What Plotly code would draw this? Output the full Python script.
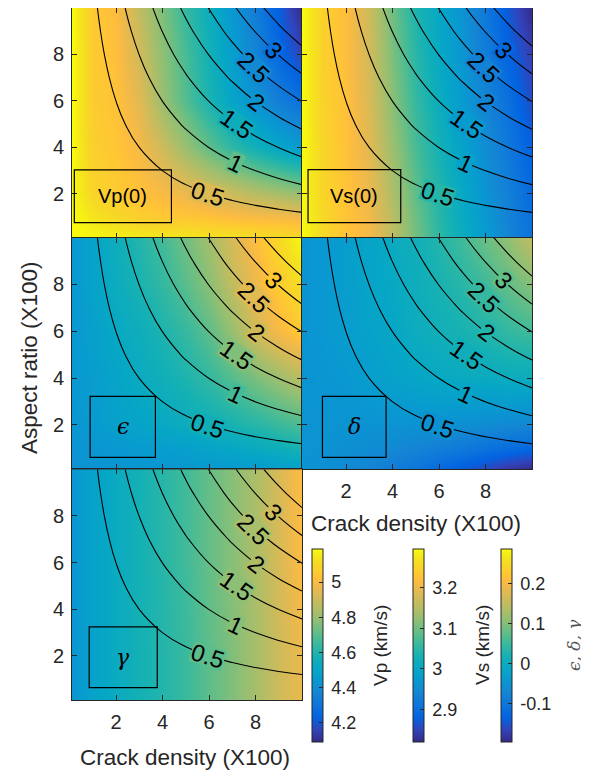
import math
import plotly.graph_objects as go

FONT = "Liberation Sans, Arial, Helvetica, sans-serif"
SERIF = "DejaVu Serif, Liberation Serif, serif"
INK = "#262626"

# ---------------- data ----------------
crack_density = [0.1, 1, 2, 3, 4, 5, 6, 7, 8, 9, 10]      # x (X100)
aspect_ratio = [0.1, 1, 2, 4, 6, 8, 10]                  # y (X100)

# Vp(0) in km/s, rows follow aspect_ratio, columns follow crack_density
vp0 = [
    [5.19, 5.18, 5.17, 5.16, 5.15, 5.15, 5.14, 5.14, 5.12, 5.12, 5.11],
    [5.19, 5.14, 5.10, 5.07, 5.05, 5.04, 5.03, 5.01, 5.00, 4.99, 4.98],
    [5.19, 5.09, 5.06, 5.03, 5.00, 4.97, 4.93, 4.90, 4.86, 4.83, 4.80],
    [5.19, 5.07, 5.04, 4.99, 4.90, 4.80, 4.71, 4.63, 4.56, 4.50, 4.45],
    [5.19, 5.06, 5.03, 4.95, 4.80, 4.69, 4.59, 4.50, 4.42, 4.34, 4.28],
    [5.19, 5.06, 5.02, 4.91, 4.78, 4.67, 4.57, 4.47, 4.36, 4.25, 4.16],
    [5.19, 5.05, 5.01, 4.88, 4.75, 4.64, 4.55, 4.44, 4.33, 4.22, 4.09],
]

# Vs(0) in km/s
vs0 = [
    [3.296, 3.258, 3.229, 3.210, 3.158, 3.101, 3.053, 3.015, 2.977, 2.939, 2.906],
    [3.296, 3.258, 3.229, 3.206, 3.153, 3.096, 3.048, 3.010, 2.972, 2.934, 2.901],
    [3.296, 3.253, 3.229, 3.201, 3.144, 3.087, 3.044, 3.006, 2.963, 2.929, 2.891],
    [3.296, 3.253, 3.225, 3.191, 3.129, 3.072, 3.029, 2.991, 2.953, 2.915, 2.877],
    [3.296, 3.248, 3.225, 3.182, 3.115, 3.058, 3.015, 2.977, 2.939, 2.901, 2.858],
    [3.296, 3.248, 3.220, 3.177, 3.106, 3.048, 3.006, 2.968, 2.925, 2.882, 2.844],
    [3.296, 3.248, 3.220, 3.172, 3.096, 3.039, 3.001, 2.963, 2.915, 2.868, 2.820],
]

# Thomsen epsilon
epsilon = [
    [-0.051, -0.051, -0.047, -0.047, -0.047, -0.042, -0.042, -0.037, -0.037, -0.032, -0.027],
    [-0.051, -0.047, -0.042, -0.037, -0.032, -0.027, -0.018, -0.013, -0.003, 0.006, 0.021],
    [-0.047, -0.037, -0.027, -0.018, -0.008, 0.002, 0.011, 0.021, 0.035, 0.050, 0.064],
    [-0.042, -0.032, -0.018, -0.003, 0.011, 0.026, 0.045, 0.069, 0.095, 0.120, 0.145],
    [-0.042, -0.027, -0.008, 0.006, 0.026, 0.047, 0.075, 0.115, 0.165, 0.200, 0.230],
    [-0.042, -0.022, 0.002, 0.021, 0.045, 0.072, 0.105, 0.150, 0.190, 0.230, 0.255],
    [-0.042, -0.022, 0.006, 0.031, 0.057, 0.088, 0.125, 0.170, 0.210, 0.250, 0.286],
]

# Thomsen delta
delta = [
    [-0.051, -0.056, -0.066, -0.075, -0.090, -0.104, -0.124, -0.143, -0.162, -0.182, -0.196],
    [-0.051, -0.051, -0.056, -0.061, -0.066, -0.075, -0.085, -0.095, -0.109, -0.119, -0.129],
    [-0.051, -0.051, -0.051, -0.051, -0.051, -0.051, -0.051, -0.056, -0.061, -0.066, -0.071],
    [-0.051, -0.047, -0.042, -0.032, -0.022, -0.013, -0.008, -0.003, -0.003, 0.002, 0.002],
    [-0.051, -0.042, -0.032, -0.022, -0.013, 0.002, 0.011, 0.021, 0.031, 0.045, 0.055],
    [-0.051, -0.042, -0.032, -0.018, -0.008, 0.006, 0.021, 0.035, 0.055, 0.079, 0.103],
    [-0.051, -0.042, -0.032, -0.018, -0.003, 0.011, 0.031, 0.055, 0.084, 0.112, 0.151],
]

# Thomsen gamma
gamma = [
    [-0.047, -0.022, -0.003, 0.016, 0.031, 0.050, 0.074, 0.098, 0.127, 0.161, 0.190],
    [-0.047, -0.022, -0.003, 0.016, 0.031, 0.050, 0.074, 0.098, 0.127, 0.161, 0.190],
    [-0.047, -0.022, -0.003, 0.016, 0.031, 0.050, 0.074, 0.098, 0.127, 0.161, 0.190],
    [-0.047, -0.022, -0.003, 0.016, 0.033, 0.052, 0.077, 0.100, 0.130, 0.165, 0.199],
    [-0.047, -0.022, -0.003, 0.016, 0.035, 0.055, 0.079, 0.103, 0.132, 0.170, 0.209],
    [-0.047, -0.022, -0.003, 0.016, 0.035, 0.055, 0.079, 0.103, 0.132, 0.170, 0.209],
    [-0.047, -0.022, -0.003, 0.016, 0.035, 0.055, 0.079, 0.103, 0.132, 0.170, 0.209],
]

# crack porosity (%) used for the contour lines
porosity_density = [0.1, 1, 2, 3, 4, 5, 6, 7, 8, 9, 10]
porosity_aspect = [0.1, 1, 2, 3, 4, 5, 6, 7, 8, 9, 10]
crack_porosity = [
    [0.0004, 0.0042, 0.0084, 0.0126, 0.0168, 0.0209, 0.0251, 0.0293, 0.0335, 0.0377, 0.0419],
    [0.0042, 0.0419, 0.0838, 0.1257, 0.1676, 0.2094, 0.2513, 0.2932, 0.3351, 0.3770, 0.4189],
    [0.0084, 0.0838, 0.1676, 0.2513, 0.3351, 0.4189, 0.5027, 0.5864, 0.6702, 0.7540, 0.8378],
    [0.0126, 0.1257, 0.2513, 0.3770, 0.5027, 0.6283, 0.7540, 0.8796, 1.0053, 1.1310, 1.2566],
    [0.0168, 0.1676, 0.3351, 0.5027, 0.6702, 0.8378, 1.0053, 1.1729, 1.3404, 1.5080, 1.6755],
    [0.0209, 0.2094, 0.4189, 0.6283, 0.8378, 1.0472, 1.2566, 1.4661, 1.6755, 1.8850, 2.0944],
    [0.0251, 0.2513, 0.5027, 0.7540, 1.0053, 1.2566, 1.5080, 1.7593, 2.0106, 2.2619, 2.5133],
    [0.0293, 0.2932, 0.5864, 0.8796, 1.1729, 1.4661, 1.7593, 2.0525, 2.3457, 2.6389, 2.9322],
    [0.0335, 0.3351, 0.6702, 1.0053, 1.3404, 1.6755, 2.0106, 2.3457, 2.6808, 3.0159, 3.3510],
    [0.0377, 0.3770, 0.7540, 1.1310, 1.5080, 1.8850, 2.2619, 2.6389, 3.0159, 3.3929, 3.7699],
    [0.0419, 0.4189, 0.8378, 1.2566, 1.6755, 2.0944, 2.5133, 2.9322, 3.3510, 3.7699, 4.1888],
]
contour_start, contour_end, contour_step = 0.5, 3.5, 0.5
contour_labels = ["0.5", "1", "1.5", "2", "2.5", "3"]

axis_ticks = [2, 4, 6, 8]
vp_ticks = [4.2, 4.4, 4.6, 4.8, 5]
vp_ticktext = ["4.2", "4.4", "4.6", "4.8", "5"]
vs_ticks = [2.9, 3.0, 3.1, 3.2]
vs_ticktext = ["2.9", "3", "3.1", "3.2"]
aniso_ticks = [-0.1, 0.0, 0.1, 0.2]
aniso_ticktext = ["-0.1", "0", "0.1", "0.2"]

vp_range = [4.09, 5.19]
vs_range = [2.82, 3.296]
aniso_range = [-0.196, 0.286]

# ---------------- style ----------------
label_pos_x = [5.95, 7.14, 7.19, 8.03, 7.9, 8.77]     # where the contour labels sit
label_pos_y = [1.97, 3.33, 5.0, 5.95, 7.45, 8.18]
label_angle = [18, 25, 35, 38, 44, 45]

parula = [
    [0.0000, "rgb(53,42,135)"], [0.0635, "rgb(50,67,186)"], [0.1270, "rgb(3,99,225)"],
    [0.1905, "rgb(13,117,220)"], [0.2540, "rgb(20,133,212)"], [0.3175, "rgb(9,152,209)"],
    [0.3810, "rgb(6,167,198)"], [0.4444, "rgb(21,177,180)"], [0.5079, "rgb(56,185,158)"],
    [0.5714, "rgb(101,190,134)"], [0.6349, "rgb(146,191,115)"], [0.6984, "rgb(183,189,100)"],
    [0.7619, "rgb(217,186,86)"], [0.7937, "rgb(233,185,78)"], [0.8254, "rgb(248,187,68)"],
    [0.8413, "rgb(253,190,61)"], [0.8571, "rgb(255,195,55)"], [0.8889, "rgb(252,206,46)"],
    [0.9206, "rgb(247,216,38)"], [0.9524, "rgb(245,228,29)"], [0.9841, "rgb(246,243,19)"],
    [1.0000, "rgb(249,251,14)"],
]


def parula_rgb(t):
    t = min(max(t, 0.0), 1.0)
    for (t0, c0), (t1, c1) in zip(parula[:-1], parula[1:]):
        if t <= t1:
            a = [float(v) for v in c0[4:-1].split(",")]
            b = [float(v) for v in c1[4:-1].split(",")]
            f = 0 if t1 == t0 else (t - t0) / (t1 - t0)
            r = [round(a[k] + f * (b[k] - a[k])) for k in range(3)]
            return "rgb(%d,%d,%d)" % tuple(r)
    return parula[-1][1]


def bilinear(field, xs, ys, x, y):
    i = max(k for k in range(len(xs) - 1) if xs[k] <= x) if x > xs[0] else 0
    j = max(k for k in range(len(ys) - 1) if ys[k] <= y) if y > ys[0] else 0
    fx = (x - xs[i]) / (xs[i + 1] - xs[i])
    fy = (y - ys[j]) / (ys[j + 1] - ys[j])
    top = field[j + 1][i] * (1 - fx) + field[j + 1][i + 1] * fx
    bot = field[j][i] * (1 - fx) + field[j][i + 1] * fx
    return bot * (1 - fy) + top * fy


# page is drawn with an 8 px body margin, so the figure is offset by it
OFF = 8
W, H = 589 - OFF, 771 - OFF


def PX(x):
    return min(max((x - OFF) / W, 0.0), 1.0)


def PY(y):
    return min(max(1 - (y - OFF) / H, 0.0), 1.0)


col_dom = [[PX(72), PX(302)], [PX(302), PX(532)]]
row_dom = [[PY(237.7), PY(6.7)], [PY(469.3), PY(237.7)], [PY(700), PY(469.3)]]

# panel: (field, coloraxis, range, col, row, label, label font, box, show x labels, show y labels)
panels = [
    (vp0, "coloraxis", vp_range, 0, 0, "Vp(0)", FONT, [0.2, 4.38, 0.75, 3.02], False, True),
    (vs0, "coloraxis2", vs_range, 1, 0, "Vs(0)", FONT, [0.36, 4.35, 0.75, 3.03], False, False),
    (epsilon, "coloraxis3", aniso_range, 0, 1, "ϵ", SERIF, [0.88, 3.69, 0.61, 3.22], False, True),
    (delta, "coloraxis3", aniso_range, 1, 1, "δ", SERIF, [0.98, 3.72, 0.61, 3.22], True, False),
    (gamma, "coloraxis3", aniso_range, 0, 2, "γ", SERIF, [0.84, 3.77, 0.63, 3.24], True, True),
]

fig = go.Figure()
layout = dict(
    width=W, height=H, margin=dict(l=0, r=0, t=0, b=0),
    paper_bgcolor="white", plot_bgcolor="white", showlegend=False,
    font=dict(family=FONT, color=INK),
)
shapes, annotations = [], []

for i, (field, cax, crange, col, row, label, lfont, box, showx, showy) in enumerate(panels):
    n = "" if i == 0 else str(i + 1)
    xa, ya = "x" + n, "y" + n
    fig.add_trace(go.Heatmap(
        x=crack_density, y=aspect_ratio, z=field, coloraxis=cax, zsmooth="best",
        xaxis=xa, yaxis=ya, hoverinfo="skip"))
    fig.add_trace(go.Contour(
        x=porosity_density, y=porosity_aspect, z=crack_porosity,
        xaxis=xa, yaxis=ya, showscale=False, hoverinfo="skip",
        contours=dict(start=contour_start, end=contour_end, size=contour_step,
                      coloring="none", showlabels=False),
        line=dict(color="black", width=1.1, smoothing=1.3)))
    common = dict(range=[0.1, 10], tickvals=axis_ticks, ticks="inside", ticklen=5,
                  tickcolor=INK, showline=True, linecolor=INK, linewidth=1,
                  mirror="ticks", showgrid=False, zeroline=False,
                  tickfont=dict(size=20, color=INK, family=FONT))
    layout["xaxis" + n] = dict(common, domain=col_dom[col], anchor=ya, showticklabels=showx,
                               ticklabelstandoff=4)
    layout["yaxis" + n] = dict(common, domain=row_dom[row], anchor=xa, showticklabels=showy,
                               ticklabelstandoff=3)
    shapes.append(dict(type="rect", xref=xa, yref=ya, x0=box[0], x1=box[1], y0=box[2], y1=box[3],
                       line=dict(color="black", width=1.2)))
    is_greek = lfont == SERIF
    annotations.append(dict(
        xref=xa, yref=ya, x=(box[0] + box[1]) / 2, y=(box[2] + box[3]) / 2, text=label,
        showarrow=False, xanchor="center", yanchor="middle",
        font=dict(size=22 if is_greek else 20, color="black", family=lfont,
                  style="italic" if is_greek else "normal")))
    # contour labels, drawn over a patch of the local map colour so the line is broken there
    for txt, lx, ly, ang in zip(contour_labels, label_pos_x, label_pos_y, label_angle):
        v = bilinear(field, crack_density, aspect_ratio, lx, ly)
        bg = parula_rgb((v - crange[0]) / (crange[1] - crange[0]))
        annotations.append(dict(
            xref=xa, yref=ya, x=lx, y=ly, text=txt, textangle=ang, showarrow=False,
            xanchor="center", yanchor="middle", bgcolor=bg, borderpad=0, height=20,
            font=dict(size=24, color="black", family=FONT)))


def cbar(x, tickvals, ticktext):
    return dict(x=x, xanchor="left", y=PY(645.3), yanchor="middle", len=193, lenmode="pixels",
                thickness=11, thicknessmode="pixels", xpad=0, ypad=0, outlinewidth=1,
                outlinecolor=INK, ticks="inside", ticklen=4, tickcolor=INK,
                tickvals=tickvals, ticktext=["\u2009" + t for t in ticktext],
                tickfont=dict(size=18, color=INK, family=FONT))


layout["coloraxis"] = dict(colorscale=parula, cmin=vp_range[0], cmax=vp_range[1],
                           colorbar=cbar(PX(311.7), vp_ticks, vp_ticktext))
layout["coloraxis2"] = dict(colorscale=parula, cmin=vs_range[0], cmax=vs_range[1],
                            colorbar=cbar(PX(413), vs_ticks, vs_ticktext))
layout["coloraxis3"] = dict(colorscale=parula, cmin=aniso_range[0], cmax=aniso_range[1],
                            colorbar=cbar(PX(501), aniso_ticks, aniso_ticktext))

# axis titles and colorbar titles
def note(x, y, text, size, angle=0, color=INK, family=FONT, style="normal"):
    return dict(xref="paper", yref="paper", x=PX(x), y=PY(y), text=text, textangle=angle,
                showarrow=False, xanchor="center", yanchor="middle",
                font=dict(size=size, color=color, family=family, style=style))


annotations += [
    note(29, 358, "Aspect ratio (X100)", 22.5, -90),
    note(185, 757, "Crack density (X100)", 22.5),
    note(416, 523, "Crack density (X100)", 22.5),
    note(380, 646, "Vp (km/s)", 19, -90),
    note(482, 645, "Vs (km/s)", 19, -90),
    note(574, 645, "ϵ, δ, γ", 17, -90, "#555555", SERIF, "italic"),
]
layout["shapes"] = shapes
layout["annotations"] = annotations
fig.update_layout(**layout)
fig.write_html("out.html")
